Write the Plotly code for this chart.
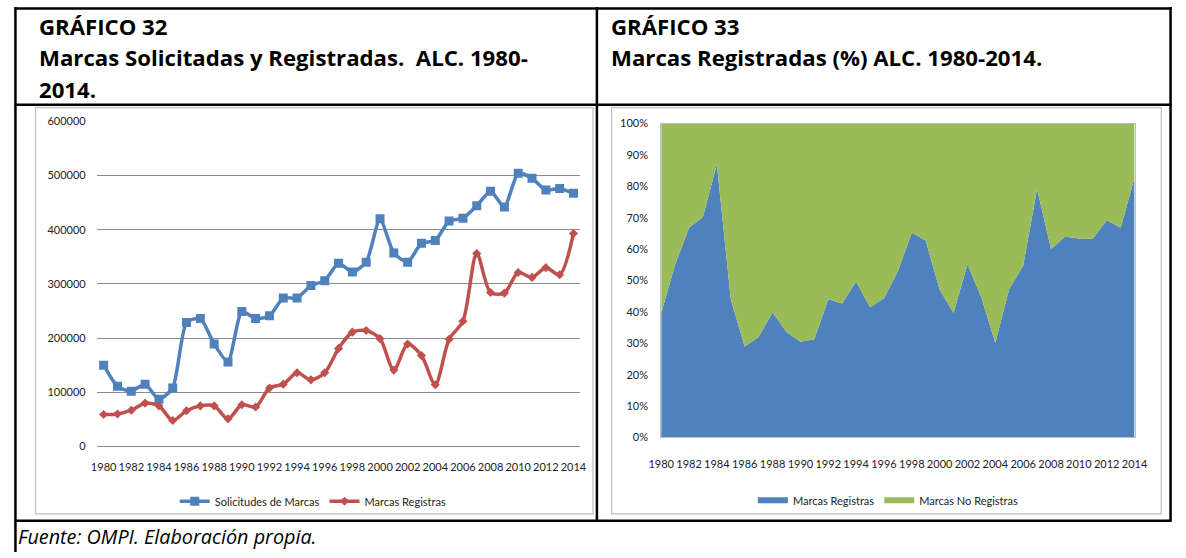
import plotly.graph_objects as go

W, H = 1186, 558

years = list(range(1980, 2015))
year_ticks = list(range(1980, 2015, 2))

solicitudes = [150000, 111000, 102000, 115000, 87000, 108000, 229000, 236000, 189000, 156000,
               249000, 236000, 241000, 274000, 274000, 297000, 306000, 338000, 322000, 340000,
               420000, 357000, 340000, 375000, 380000, 416000, 421000, 444000, 471000, 442000,
               504000, 495000, 473000, 476000, 467000]

registras = [59000, 60000, 67000, 80000, 75000, 48000, 66000, 75000, 75000, 51000,
             77000, 73000, 108000, 115000, 136000, 123000, 136000, 181000, 211000, 214000,
             199000, 141000, 189000, 168000, 114000, 198000, 231000, 356000, 284000, 283000,
             321000, 312000, 330000, 317000, 393000]

pct_registras = [39.6, 55.0, 66.8, 70.2, 87.0, 44.0, 29.0, 32.0, 39.8, 33.6,
                 30.5, 31.3, 44.0, 42.7, 49.7, 41.5, 44.3, 52.9, 65.2, 62.7,
                 47.1, 39.6, 55.2, 44.6, 30.1, 47.4, 54.7, 79.2, 60.0, 63.9,
                 63.4, 63.3, 69.2, 66.8, 82.7]

pct_no_registras = [60.4, 45.0, 33.2, 29.8, 13.0, 56.0, 71.0, 68.0, 60.2, 66.4,
                    69.5, 68.7, 56.0, 57.3, 50.3, 58.5, 55.7, 47.1, 34.8, 37.3,
                    52.9, 60.4, 44.8, 55.4, 69.9, 52.6, 45.3, 20.8, 40.0, 36.1,
                    36.6, 36.7, 30.8, 33.2, 17.3]

left_ticks = [0, 100000, 200000, 300000, 400000, 500000, 600000]
right_ticks = [0, 10, 20, 30, 40, 50, 60, 70, 80, 90, 100]
right_tick_labels = ["0%", "10%", "20%", "30%", "40%", "50%", "60%", "70%", "80%", "90%", "100%"]


def px(x):
    return min(max(x / W, 0.0), 1.0)


def py(y):
    return min(max(1 - y / H, 0.0), 1.0)


BLUE = "#4F81BD"
RED = "#C0504D"
GREEN = "#9BBB59"
TICKFONT = dict(family="Lato, Open Sans, sans-serif", size=11, color="#222222")

fig = go.Figure()

# Left chart
fig.add_trace(go.Scatter(
    x=years, y=solicitudes, name="Solicitudes de Marcas",
    mode="lines+markers", line=dict(color=BLUE, width=3.5, shape="spline", smoothing=0.6),
    marker=dict(symbol="square", size=9, color=BLUE),
    xaxis="x", yaxis="y", legend="legend"))
fig.add_trace(go.Scatter(
    x=years, y=registras, name="Marcas Registras",
    mode="lines+markers", line=dict(color=RED, width=3.5, shape="spline", smoothing=0.8),
    marker=dict(symbol="diamond", size=7, color=RED),
    xaxis="x", yaxis="y", legend="legend"))

# Right chart
fig.add_trace(go.Scatter(
    x=years, y=pct_registras, name="Marcas Registras", stackgroup="one",
    mode="none", fillcolor=BLUE, xaxis="x2", yaxis="y2", legend="legend2"))
fig.add_trace(go.Scatter(
    x=years, y=pct_no_registras, name="Marcas No Registras", stackgroup="one",
    mode="none", fillcolor=GREEN, xaxis="x2", yaxis="y2", legend="legend2"))

shapes = []
BL = dict(color="black", width=2.5)
L, R, T = 2.5, 1183.5, 1.5
# table borders
shapes.append(dict(type="line", xref="paper", yref="paper", x0=px(L - 1), x1=px(R + 1), y0=py(T), y1=py(T), line=BL))
shapes.append(dict(type="line", xref="paper", yref="paper", x0=px(L - 1), x1=px(R + 1), y0=py(100), y1=py(100), line=BL))
shapes.append(dict(type="line", xref="paper", yref="paper", x0=px(L - 1), x1=px(R + 1), y0=py(526), y1=py(526), line=BL))
shapes.append(dict(type="line", xref="paper", yref="paper", x0=px(L), x1=px(L), y0=py(0), y1=py(558), line=BL))
shapes.append(dict(type="line", xref="paper", yref="paper", x0=px(597), x1=px(597), y0=py(0), y1=py(526), line=BL))
shapes.append(dict(type="line", xref="paper", yref="paper", x0=px(R), x1=px(R), y0=py(0), y1=py(526), line=BL))
# chart frames
FR = dict(color="#BFBFBF", width=1.2)
shapes.append(dict(type="rect", xref="paper", yref="paper", x0=px(23), x1=px(593), y0=py(103), y1=py(519), line=FR))
shapes.append(dict(type="rect", xref="paper", yref="paper", x0=px(612), x1=px(1174), y0=py(103), y1=py(519), line=FR))
fig.update_layout(shapes=shapes)

TF = dict(family="Open Sans, sans-serif", size=22.2, color="black")
ann = [
    dict(text="<b>GRÁFICO 32</b>", x=px(25), y=py(20)),
    dict(text="<b>Marcas Solicitadas y Registradas.  ALC. 1980-</b>", x=px(25), y=py(52)),
    dict(text="<b>2014.</b>", x=px(25), y=py(84)),
    dict(text="<b>GRÁFICO 33</b>", x=px(609), y=py(20)),
    dict(text="<b>Marcas Registradas (%) ALC. 1980-2014.</b>", x=px(609), y=py(52)),
]
annotations = []
for a in ann:
    annotations.append(dict(a, xref="paper", yref="paper", xanchor="left", yanchor="middle",
                            showarrow=False, font=TF))
annotations.append(dict(text="<i>Fuente: OMPI. Elaboración propia.</i>", x=px(3), y=py(542),
                        xref="paper", yref="paper", xanchor="left", yanchor="middle",
                        showarrow=False,
                        font=dict(family="Open Sans, sans-serif", size=19.8, color="black")))

fig.update_layout(
    width=W, height=H, autosize=False,
    margin=dict(l=0, r=0, t=0, b=0),
    paper_bgcolor="white", plot_bgcolor="rgba(0,0,0,0)",
    annotations=annotations,
    xaxis=dict(domain=[px(85.6), px(580.1)], range=[1979.5, 2014.5], tickvals=year_ticks,
               tickangle=0, showgrid=False, zeroline=False, showline=False, ticks="",
               tickfont=TICKFONT, ticklabelstandoff=12, anchor="y", fixedrange=True),
    yaxis=dict(domain=[py(450), py(117)], range=[0, 600000.5], tickvals=left_ticks,
               tickformat="d", showgrid=True, gridcolor="#8C8C8C", gridwidth=1,
               zeroline=True, zerolinecolor="#8C8C8C", zerolinewidth=1, showline=False,
               ticks="", tickfont=TICKFONT, ticklabelstandoff=10, anchor="x", fixedrange=True),
    xaxis2=dict(domain=[px(662.7), px(1146.7)], range=[1980, 2014], tickvals=year_ticks,
                tickangle=0, showgrid=False, zeroline=False, showline=True, linecolor="#BFBFBF",
                mirror=True, ticks="", tickfont=TICKFONT, ticklabelstandoff=16, anchor="y2",
                fixedrange=True),
    yaxis2=dict(domain=[py(440.7), py(119.3)], range=[0, 100], tickvals=right_ticks,
                ticktext=right_tick_labels, showgrid=False, zeroline=False, showline=True,
                linecolor="#BFBFBF", mirror=True, ticks="", tickfont=TICKFONT,
                ticklabelstandoff=10, anchor="x2", fixedrange=True),
    legend=dict(orientation="h", x=px(307), y=py(506), xanchor="center", yanchor="middle",
                font=dict(family="Lato, Open Sans, sans-serif", size=11, color="#222222"),
                bgcolor="rgba(0,0,0,0)", itemwidth=30, traceorder="normal"),
    legend2=dict(orientation="h", x=px(895), y=py(505), xanchor="center", yanchor="middle",
                 font=dict(family="Lato, Open Sans, sans-serif", size=11, color="#222222"),
                 bgcolor="rgba(0,0,0,0)", itemwidth=30, traceorder="normal"),
)

fig.write_html(
    "out.html",
    config={"displayModeBar": False},
    post_script="document.body.style.margin='0';document.body.style.overflow='hidden';",
)
